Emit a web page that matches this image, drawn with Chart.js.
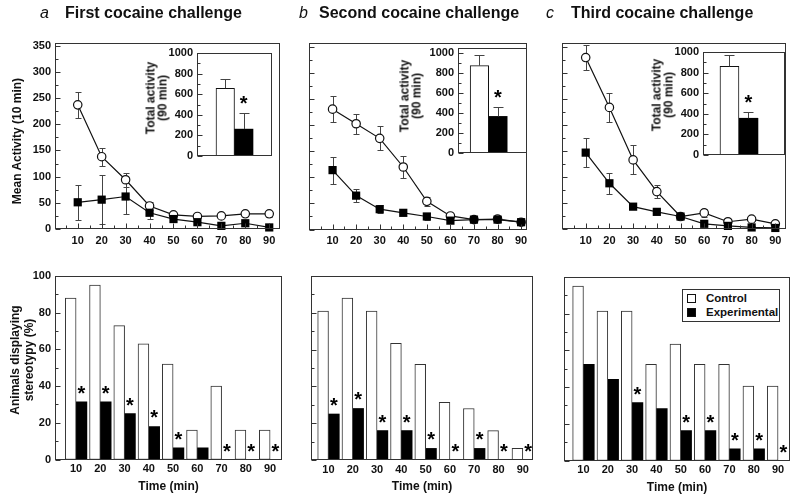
<!DOCTYPE html>
<html>
<head>
<meta charset="utf-8">
<script src="https://cdn.jsdelivr.net/npm/chart.js@4.4.0/dist/chart.umd.min.js"></script>
<style>
  body { margin: 0; background: #fff; }
  #wrap { position: relative; width: 800px; height: 504px; overflow: hidden; font-family: "Liberation Sans", Arial, sans-serif; color: #111; }
  #wrap canvas { position: absolute; left: 0; top: 0; }
  .txt { position: absolute; white-space: nowrap; line-height: 20px; }
  .head { font-weight: bold; font-size: 16px; }
  .letter { font-style: italic; font-size: 16px; }
  .rot { position: absolute; white-space: nowrap; font-weight: bold; font-size: 12px; text-align: center; transform: translate(-50%, -50%) rotate(-90deg); }
  #legend { position: absolute; left: 682px; top: 289px; width: 96px; height: 31px; border: 1px solid #333; background: #fff; font-weight: bold; font-size: 11.5px; }
  #legend .row { position: absolute; left: 23px; line-height: 14px; }
  #legend .sw { position: absolute; left: -19px; top: 3px; width: 7px; height: 7px; border: 1px solid #111; }
</style>
</head>
<body>
<div id="wrap">
  <canvas id="topA" width="800" height="504"></canvas>
  <canvas id="insA" width="800" height="504"></canvas>
  <canvas id="topB" width="800" height="504"></canvas>
  <canvas id="insB" width="800" height="504"></canvas>
  <canvas id="topC" width="800" height="504"></canvas>
  <canvas id="insC" width="800" height="504"></canvas>
  <canvas id="botA" width="800" height="504"></canvas>
  <canvas id="botB" width="800" height="504"></canvas>
  <canvas id="botC" width="800" height="504"></canvas>

  <div class="txt letter" style="left:40px;top:3px;">a</div>
  <div class="txt head" style="left:65px;top:3px;">First cocaine challenge</div>
  <div class="txt letter" style="left:299px;top:3px;">b</div>
  <div class="txt head" style="left:319px;top:3px;">Second cocaine challenge</div>
  <div class="txt letter" style="left:546px;top:3px;">c</div>
  <div class="txt head" style="left:571px;top:3px;">Third cocaine challenge</div>

  <div class="rot" style="left:17px;top:141px;">Mean Activity (10 min)</div>
  <div class="rot" style="left:22px;top:360px;line-height:14px;">Animals displaying<br>stereotypy (%)</div>
  <div class="rot" style="left:157px;top:98px;line-height:11.5px;">Total activity<br>(90 min)</div>
  <div class="rot" style="left:411px;top:96px;line-height:11.5px;">Total activity<br>(90 min)</div>
  <div class="rot" style="left:663px;top:95px;line-height:11.5px;">Total activity<br>(90 min)</div>

  <div id="legend">
    <div class="row" style="top:1px;"><span class="sw" style="background:#fff;"></span>Control</div>
    <div class="row" style="top:15px;"><span class="sw" style="background:#000;"></span>Experimental</div>
  </div>
</div>

<script>
// ---- data ----
const times = [10, 20, 30, 40, 50, 60, 70, 80, 90];
const activityTicks = [0, 50, 100, 150, 200, 250, 300, 350];
const totalTicks = [0, 200, 400, 600, 800, 1000];
const percentTicks = [0, 20, 40, 60, 80, 100];

// mean activity per 10 min, control (open circles) and experimental (squares)
const ctrlA = [237, 138, 94, 44, 27, 24, 25, 29, 29];
const ctrlAErr = [25, 17, 13, 8, 4, 3, 3, 4, 6];
const expA = [51, 56, 62, 31, 19, 13, 6, 11, 3];
const expAErr = [33, 47, 33, 12, 4, 3, 2, 3, 2];

const ctrlB = [231, 203, 175, 120, 54, 26, 19, 20, 14];
const ctrlBErr = [25, 19, 23, 21, 8, 4, 3, 6, 3];
const expB = [114, 65, 39, 32, 25, 17, 19, 19, 14];
const expBErr = [26, 13, 8, 4, 6, 3, 3, 4, 3];

const ctrlC = [330, 234, 133, 72, 24, 31, 14, 19, 10];
const ctrlCErr = [24, 28, 28, 13, 4, 7, 3, 3, 3];
const expC = [147, 88, 43, 33, 24, 10, 6, 3, 2];
const expCErr = [28, 20, 4, 3, 3, 2, 2, 2, 2];

// total activity (90 min), challenges 1..3
const totalCtrl = [658, 873, 860];
const totalCtrlErr = [94, 103, 114];
const totalExp = [261, 366, 357];
const totalExpErr = [153, 94, 65];

// animals displaying stereotypy (%)
const stereoCtrlA = [88, 95, 73, 63, 52, 16, 40, 16, 16];
const stereoExpA = [31.4, 31.4, 25, 18, 6.3, 6.3, 0, 0, 0];
const starsA = [1, 1, 1, 1, 1, 0, 1, 1, 1];
const stereoCtrlB = [81, 88, 81, 63.4, 52, 31.4, 28, 16, 6.3];
const stereoExpB = [25, 28, 16, 16, 6.3, 0, 6.3, 0, 0];
const starsB = [1, 1, 1, 1, 1, 1, 1, 1, 1];
const stereoCtrlC = [95, 81.4, 81.4, 52.4, 63.4, 52.4, 52.4, 40.6, 40.6];
const stereoExpC = [52.4, 44.2, 31.5, 28.3, 16.3, 16.3, 6.3, 6.3, 0];
const starsC = [0, 0, 1, 0, 1, 1, 1, 1, 1];

// ---- helpers ----
Chart.defaults.font.family = '"Liberation Sans", Arial, sans-serif';
Chart.defaults.font.weight = 'bold';
Chart.defaults.color = '#111';

function fixedLayout(area, yW, xH) {
  return { padding: { left: area[0] - yW, top: area[1], right: 800 - area[2], bottom: 504 - area[3] - xH } };
}
function fitY(w) { return s => { s.width = w; s.paddingTop = 0; s.paddingBottom = 0; }; }
function fitX(h) { return s => { s.height = h; s.paddingLeft = 0; s.paddingRight = 0; }; }
function setTicks(vals) { return s => { s.ticks = vals.map(v => ({ value: v })); }; }
function valueOf(d) { return typeof d === 'object' ? d.y : d; }

function drawErrors(chart, e, both) {
  const ctx = chart.ctx, ys = chart.scales.y;
  const meta = chart.getDatasetMeta(e.ds), vals = chart.data.datasets[e.ds].data;
  ctx.save();
  ctx.strokeStyle = '#444';
  ctx.lineWidth = 1;
  meta.data.forEach((el, i) => {
    const v = valueOf(vals[i]);
    const x = Math.round(el.x) + 0.5;
    const top = Math.round(ys.getPixelForValue(v + e.err[i])) + 0.5;
    const bot = both ? Math.round(ys.getPixelForValue(Math.max(0, v - e.err[i]))) + 0.5 : el.y;
    ctx.beginPath();
    ctx.moveTo(x, top); ctx.lineTo(x, bot);
    ctx.moveTo(x - e.cap, top); ctx.lineTo(x + e.cap, top);
    if (both) { ctx.moveTo(x - e.cap, bot); ctx.lineTo(x + e.cap, bot); }
    ctx.stroke();
  });
  ctx.restore();
}

function drawStars(chart, s) {
  const ctx = chart.ctx, ys = chart.scales.y;
  const meta = chart.getDatasetMeta(s.ds), vals = chart.data.datasets[s.ds].data;
  ctx.save();
  ctx.fillStyle = '#000';
  ctx.font = 'bold 20px "Liberation Sans", Arial, sans-serif';
  ctx.textAlign = 'center';
  ctx.textBaseline = 'alphabetic';
  const m = ctx.measureText('*');
  const off = (m.actualBoundingBoxAscent - m.actualBoundingBoxDescent) / 2;
  meta.data.forEach((el, i) => {
    if (!s.flags[i]) return;
    const top = s.err ? ys.getPixelForValue(valueOf(vals[i]) + s.err[i]) : el.y;
    ctx.fillText('*', el.x, top - s.gap + off);
  });
  ctx.restore();
}

function drawFrame(chart, o) {
  const ctx = chart.ctx, a = chart.chartArea;
  const L = Math.round(a.left) + 0.5, T = Math.round(a.top) + 0.5;
  const R = Math.round(a.right) - 0.5, B = Math.round(a.bottom) - 0.5;
  ctx.save();
  ctx.strokeStyle = '#333';
  ctx.lineWidth = 1;
  ctx.strokeRect(L, T, R - L, B - T);
  ctx.beginPath();
  const ys = chart.scales.y;
  if (o.yTicks) {
    const [major, minor] = o.yTicks;
    for (let k = 0; k * minor <= ys.max + 1e-6; k++) {
      const v = k * minor;
      const len = (k % (major / minor) === 0) ? 5 : 3;
      const y = Math.round(ys.getPixelForValue(v)) + 0.5;
      ctx.moveTo(L, y); ctx.lineTo(L + len, y);
    }
  }
  const xs = chart.scales.x;
  if (o.xTicks) {
    const [major, minor] = o.xTicks;
    for (let k = Math.ceil(xs.min / minor); k * minor <= xs.max; k++) {
      const v = k * minor;
      const len = (v % major === 0) ? 5 : 3;
      const x = Math.round(xs.getPixelForValue(v)) + 0.5;
      ctx.moveTo(x, B); ctx.lineTo(x, B - len);
    }
  }
  ctx.stroke();
  ctx.restore();
}

function panel(o) {
  return {
    id: 'panel',
    beforeDraw(chart) {
      if (!o.fill) return;
      const a = chart.chartArea, ctx = chart.ctx;
      ctx.save();
      ctx.fillStyle = '#fff';
      ctx.fillRect(a.left, a.top, a.right - a.left, a.bottom - a.top);
      ctx.restore();
    },
    beforeDatasetsDraw(chart) {
      (o.errors || []).forEach(e => drawErrors(chart, e, true));
    },
    afterDatasetsDraw(chart) {
      (o.capErrors || []).forEach(e => drawErrors(chart, e, false));
      if (o.stars) drawStars(chart, o.stars);
      drawFrame(chart, o);
    }
  };
}

const tickFont = { size: 11, weight: 'bold' };
const noGrid = { display: false, drawTicks: false, offset: false };

function activityChart(id, ctrl, ctrlErr, exp, expErr, area, xMin, xMax, yMax, showY) {
  const yW = showY ? 40 : 0;
  return new Chart(document.getElementById(id), {
    type: 'line',
    data: {
      datasets: [
        {
          label: 'Experimental',
          data: times.map((t, i) => ({ x: t, y: exp[i] })),
          borderColor: '#111', borderWidth: 1.2, clip: false,
          pointStyle: 'rect', pointRadius: 5.8,
          pointBackgroundColor: '#000', pointBorderColor: '#000', pointBorderWidth: 0
        },
        {
          label: 'Control',
          data: times.map((t, i) => ({ x: t, y: ctrl[i] })),
          borderColor: '#111', borderWidth: 1.2, clip: false,
          pointStyle: 'circle', pointRadius: 4.2,
          pointBackgroundColor: '#fff', pointBorderColor: '#111', pointBorderWidth: 1.2
        }
      ]
    },
    options: {
      responsive: false, animation: false, devicePixelRatio: 1,
      layout: fixedLayout(area, yW, 25),
      scales: {
        x: {
          type: 'linear', min: xMin, max: xMax,
          afterBuildTicks: setTicks(times), afterFit: fitX(25),
          grid: noGrid, border: { display: false },
          ticks: { font: tickFont, padding: 5, color: '#111' }
        },
        y: {
          type: 'linear', min: 0, max: yMax,
          afterBuildTicks: setTicks(activityTicks), afterFit: fitY(yW),
          grid: noGrid, border: { display: false },
          ticks: { display: showY, font: tickFont, padding: 4, color: '#111' }
        }
      },
      plugins: { legend: { display: false }, tooltip: { enabled: false } }
    },
    plugins: [panel({
      yTicks: [50, 25], xTicks: [10, 5],
      errors: [{ ds: 0, err: expErr, cap: 3 }, { ds: 1, err: ctrlErr, cap: 3 }]
    })]
  });
}

// inset: one group of two bars, placed on a linear x axis running 0..xMax
function totalChart(id, i, area, yMax, xMax, thick) {
  return new Chart(document.getElementById(id), {
    type: 'bar',
    data: {
      datasets: [
        { label: 'Control', data: [{ x: 1, y: totalCtrl[i] }], backgroundColor: '#fff', borderColor: '#111', borderWidth: 1, borderSkipped: false, barThickness: thick },
        { label: 'Experimental', data: [{ x: 1, y: totalExp[i] }], backgroundColor: '#000', borderWidth: 0, barThickness: thick }
      ]
    },
    options: {
      responsive: false, animation: false, devicePixelRatio: 1,
      layout: fixedLayout(area, 30, 0),
      scales: {
        x: { type: 'linear', min: 0, max: xMax, offset: false, display: false },
        y: {
          type: 'linear', min: 0, max: yMax,
          afterBuildTicks: setTicks(totalTicks), afterFit: fitY(30),
          grid: noGrid, border: { display: false },
          ticks: { font: tickFont, padding: 4, color: '#111', callback: v => String(v) }
        }
      },
      plugins: { legend: { display: false }, tooltip: { enabled: false } }
    },
    plugins: [panel({
      fill: true, yTicks: [200, 100],
      capErrors: [{ ds: 0, err: [totalCtrlErr[i]], cap: 5 }, { ds: 1, err: [totalExpErr[i]], cap: 5 }],
      stars: { ds: 1, flags: [1], gap: 13, err: [totalExpErr[i]] }
    })]
  });
}

function stereoChart(id, ctrl, exp, stars, area, xMin, xMax, showY) {
  const yW = showY ? 40 : 0;
  return new Chart(document.getElementById(id), {
    type: 'bar',
    data: {
      datasets: [
        { label: 'Control', data: times.map((t, i) => ({ x: t, y: ctrl[i] })), backgroundColor: '#fff', borderColor: '#333', borderWidth: 1, borderSkipped: false, barThickness: 10.8 },
        { label: 'Experimental', data: times.map((t, i) => ({ x: t, y: exp[i] })), backgroundColor: '#000', borderWidth: 0, barThickness: 10.8 }
      ]
    },
    options: {
      responsive: false, animation: false, devicePixelRatio: 1,
      layout: fixedLayout(area, yW, 34),
      scales: {
        x: {
          type: 'linear', min: xMin, max: xMax, offset: false,
          afterBuildTicks: setTicks(times), afterFit: fitX(34),
          grid: noGrid, border: { display: false },
          ticks: { font: tickFont, padding: 3, color: '#111' },
          title: { display: true, text: 'Time (min)', font: { size: 12, weight: 'bold' }, padding: 0, color: '#111' }
        },
        y: {
          type: 'linear', min: 0, max: 100,
          afterBuildTicks: setTicks(percentTicks), afterFit: fitY(yW),
          grid: noGrid, border: { display: false },
          ticks: { display: showY, font: tickFont, padding: 4, color: '#111' }
        }
      },
      plugins: { legend: { display: false }, tooltip: { enabled: false } }
    },
    plugins: [panel({ yTicks: [20, 10], stars: { ds: 1, flags: stars, gap: 12 } })]
  });
}

// ---- charts ----
activityChart('topA', ctrlA, ctrlAErr, expA, expAErr, [55, 43, 280, 229], 0.5, 94.5, 355, true);
activityChart('topB', ctrlB, ctrlBErr, expB, expBErr, [309, 43, 527, 229.5], 0, 92.5, 358, false);
activityChart('topC', ctrlC, ctrlCErr, expC, expCErr, [562, 43, 786, 229], 0, 94.5, 358, false);

totalChart('insA', 0, [197, 53, 272, 156], 1000, 2.0, 18.5);
totalChart('insB', 1, [458, 48, 527, 153], 1050, 2.25, 18.5);
totalChart('insC', 2, [703, 52, 785, 155], 1000, 2.28, 19);

stereoChart('botA', stereoCtrlA, stereoExpA, starsA, [55, 276, 282, 459.5], 1.3, 94.9, true);
stereoChart('botB', stereoCtrlB, stereoExpB, starsB, [311, 276, 533, 460], 2.8, 94.2, false);
stereoChart('botC', stereoCtrlC, stereoExpC, starsC, [564, 277, 790, 460.5], 2, 94.9, false);
</script>
</body>
</html>
